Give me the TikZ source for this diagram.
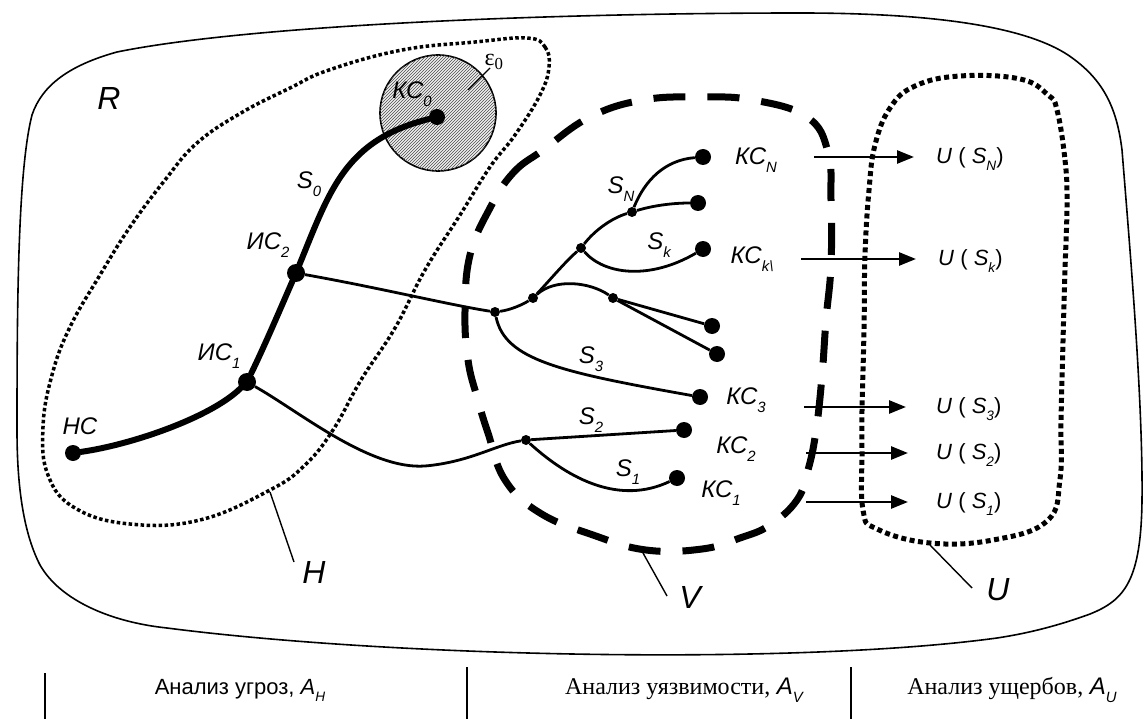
\documentclass[tikz,border=0pt]{standalone}
\usepackage{fontspec}
\setmainfont{Liberation Sans}
\newfontfamily\timesfont{Liberation Serif}
\usetikzlibrary{patterns}
\usetikzlibrary{arrows.meta}

\newcommand{\lsub}[1]{\raisebox{-0.32em}{\scalebox{0.62}{\itshape #1}}}
\newcommand{\ufun}[1]{\textit{U} ( \textit{S}\lsub{#1})}

\tikzset{
  bigdot/.style={circle,fill=black,inner sep=0pt,minimum size=16pt},
  nodedot/.style={circle,fill=black,inner sep=0pt,minimum size=18pt},
  smalldot/.style={circle,fill=black,inner sep=0pt,minimum size=10pt},
  branch/.style={line width=2.8pt},
  mainpath/.style={line width=6pt,line cap=round},
  lbl/.style={inner sep=0pt,font=\fontsize{24}{28}\selectfont\itshape},
  biglbl/.style={inner sep=0pt,font=\fontsize{32}{36}\selectfont\itshape},
  ulbl/.style={inner sep=0pt,anchor=west,font=\fontsize{22}{26}\selectfont},
  btxt/.style={inner sep=0pt,font=\fontsize{22}{26}\selectfont},
  flow/.style={line width=2.6pt,-{Triangle[length=17pt,width=13pt]}},
  leader/.style={line width=1.4pt},
  hzone/.style={line width=3.5pt,dash pattern=on 3.5pt off 2.5pt},
  vzone/.style={line width=7pt,dash pattern=on 32pt off 22pt},
  uzone/.style={line width=5pt,dash pattern=on 5pt off 3.5pt},
}

\begin{document}
\begin{tikzpicture}[x=1pt,y=1pt,yscale=-1]
\useasboundingbox (0,0) rectangle (1147,719);

%Shape: Outer region R
\draw [line width=1.6pt] (17,430) .. controls (17,300) and (18,170) .. (32,115) .. controls (42,85) and (70,65) .. (117,52) .. controls (250,25) and (550,13) .. (800,13) .. controls (950,13) and (1030,30) .. (1068,55) .. controls (1105,80) and (1117,110) .. (1122,150) .. controls (1130,250) and (1143,400) .. (1142,500) .. controls (1141,580) and (1125,600) .. (1090,614) .. controls (1060,625) and (1030,633) .. (997,638) .. controls (800,665) and (400,658) .. (167,628) .. controls (110,622) and (60,600) .. (40,565) .. controls (22,530) and (17,480) .. cycle ;

%Shape: Region H
\draw [hzone] plot [smooth cycle, tension=0.7] coordinates {(527,38) (545,47) (549,67) (540,95) (515,135) (490,167) (460,215) (425,270) (395,328) (361,380) (333,430) (305,465) (270,490) (200,520) (130,524) (75,508) (48,475) (43,427) (52,375) (70,327) (100,275) (130,227) (165,180) (197,143) (241,113) (290,88) (329,70) (402,50) (475,42)} ;

%Shape: Region V
\draw [vzone] plot [smooth cycle, tension=0.7] coordinates {(490,208) (513,173) (543,150) (590,117) (643,100) (700,97) (753,100) (807,117) (828,152) (831,200) (831,265) (826,320) (822,376) (816,431) (808,470) (797,500) (770,525) (740,538) (702,549) (646,550) (593,535) (540,513) (505,480) (488,433) (477,397) (468,360) (465,311) (470,255)} ;

%Shape: Region U
\draw [uzone] plot [smooth cycle, tension=0.7] coordinates {(1057,110) (1065,160) (1067,203) (1065,270) (1063,341) (1061,420) (1060,479) (1047,521) (993,540) (930,543) (877,529) (863,510) (862,450) (862,410) (864,330) (865,255) (869,190) (875,145) (890,108) (915,86) (960,76) (1020,79) (1048,95)} ;

%Shape: Circle eps0
\draw [line width=1.6pt, fill=gray!12, postaction={pattern=north east lines, pattern color=black!70}] (438,113) circle (58) ;

%Dots
\node [bigdot] (hc) at (73,453) {};
\node [nodedot] (ic1) at (247,382) {};
\node [nodedot] (ic2) at (296,273) {};
\node [bigdot] (kc0) at (437,117) {};
\node [smalldot] (j1) at (495,312) {};
\node [smalldot] (j2) at (533,298) {};
\node [smalldot] (j3) at (581,248) {};
\node [smalldot] (j4) at (632,212) {};
\node [smalldot] (j5) at (613,298) {};
\node [smalldot] (j6) at (526,440) {};
\node [bigdot] (kcn) at (703,157) {};
\node [bigdot] (t2) at (698,203) {};
\node [bigdot] (kck) at (703,249) {};
\node [bigdot] (da) at (712,326) {};
\node [bigdot] (db) at (717,354) {};
\node [bigdot] (kc3) at (700,397) {};
\node [bigdot] (kc2) at (684,430) {};
\node [bigdot] (kc1) at (677,478) {};

%Curve Lines: S0
\draw [mainpath] (hc) .. controls (130,445) and (210,418) .. (ic1) ;
\draw [mainpath] (ic1) .. controls (265,345) and (282,305) .. (ic2) ;
\draw [mainpath] (ic2) .. controls (330,190) and (345,140) .. (kc0) ;

%Curve Lines: branches
\draw [branch] (ic2) .. controls (380,288) and (450,305) .. (j1) ;
\draw [branch] (j1) .. controls (510,310) and (522,305) .. (j2) ;
\draw [branch] (j2) .. controls (550,280) and (565,262) .. (j3) ;
\draw [branch] (j3) .. controls (595,230) and (612,218) .. (j4) ;
\draw [branch] (j4) .. controls (645,180) and (665,160) .. (kcn) ;
\draw [branch] (j4) .. controls (655,205) and (675,203) .. (t2) ;
\draw [branch] (j3) .. controls (605,275) and (650,280) .. (kck) ;
\draw [branch] (j2) .. controls (555,278) and (590,282) .. (j5) ;
\draw [branch] (j5) -- (da) ;
\draw [branch] (j5) -- (db) ;
\draw [branch] (j1) .. controls (505,360) and (560,372) .. (kc3) ;
\draw [branch] (ic1) .. controls (300,412) and (370,470) .. (425,466) .. controls (470,462) and (495,445) .. (j6) ;
\draw [branch] (j6) -- (kc2) ;
\draw [branch] (j6) .. controls (570,480) and (620,505) .. (kc1) ;

%Straight Lines: arrows to U
\coordinate (fn0) at (814,157); \coordinate (fn1) at (914,157);
\coordinate (fk0) at (801,259); \coordinate (fk1) at (916,259);
\coordinate (f30) at (804,407); \coordinate (f31) at (906,407);
\coordinate (f20) at (806,453); \coordinate (f21) at (908,453);
\coordinate (f10) at (806,502); \coordinate (f11) at (908,502);
\draw [flow] (fn0) -- (fn1) ;
\draw [flow] (fk0) -- (fk1) ;
\draw [flow] (f30) -- (f31) ;
\draw [flow] (f20) -- (f21) ;
\draw [flow] (f10) -- (f11) ;

%Straight Lines: leaders
\coordinate (eps1) at (490,68); \coordinate (eps2) at (468,90);
\coordinate (hl1) at (270,492); \coordinate (hl2) at (294,562);
\coordinate (vl1) at (643,553); \coordinate (vl2) at (667,596);
\coordinate (ul1) at (930,545); \coordinate (ul2) at (972,588);
\draw [leader] (eps1) -- (eps2) ;
\draw [leader] (hl1) -- (hl2) ;
\draw [leader] (vl1) -- (vl2) ;
\draw [leader] (ul1) -- (ul2) ;

%Straight Lines: separators
\coordinate (s1a) at (45,673); \coordinate (s1b) at (45,719);
\coordinate (s2a) at (467,667); \coordinate (s2b) at (467,719);
\coordinate (s3a) at (851,667); \coordinate (s3b) at (851,719);
\draw [line width=1.6pt] (s1a) -- (s1b) ;
\draw [line width=1.6pt] (s2a) -- (s2b) ;
\draw [line width=1.6pt] (s3a) -- (s3b) ;

% Text Node
\node [biglbl] (rlab) at (109,98) {R};
\node [biglbl] (hlab) at (314,572) {H};
\node [biglbl] (vlab) at (690,597) {V};
\node [biglbl] (ulab) at (998,590) {U};
% Text Node
\node [lbl] (hclab) at (80,426) {НС};
\node [lbl] (ic1lab) at (219,356) {ИС\lsub{1}};
\node [lbl] (ic2lab) at (268,245) {ИС\lsub{2}};
\node [lbl] (kc0lab) at (412,94) {КС\lsub{0}};
\node [inner sep=0pt, font=\fontsize{24}{28}\selectfont\timesfont] (epslab) at (494,62) {ε\textsubscript{0}};
\node [lbl] (s0lab) at (309,184) {S\lsub{0}};
% Text Node
\node [lbl] (snlab) at (621,189) {S\lsub{N}};
\node [lbl] (sklab) at (659,245) {S\lsub{k}};
\node [lbl] (s3lab) at (591,359) {S\lsub{3}};
\node [lbl] (s2lab) at (591,420) {S\lsub{2}};
\node [lbl] (s1lab) at (628,472) {S\lsub{1}};
% Text Node
\node [lbl] (kcnlab) at (756,160) {КС\lsub{N}};
\node [lbl] (kcklab) at (752,259) {КС\lsub{k\textbackslash}};
\node [lbl] (kc3lab) at (746,400) {КС\lsub{3}};
\node [lbl] (kc2lab) at (736,449) {КС\lsub{2}};
\node [lbl] (kc1lab) at (721,493) {КС\lsub{1}};
% Text Node
\node [ulbl] (usn) at (936,159) {\ufun{N}};
\node [ulbl] (usk) at (938,261) {\ufun{k}};
\node [ulbl] (us3) at (936,409) {\ufun{3}};
\node [ulbl] (us2) at (936,455) {\ufun{2}};
\node [ulbl] (us1) at (936,504) {\ufun{1}};
% Text Node
\node [btxt] (ah) at (240,690) {Анализ угроз, \textit{A}\lsub{H}};
\node [btxt, font=\fontsize{24}{28}\selectfont] (av) at (684,690) {{\timesfont Анализ уязвимости,} \textit{A}\lsub{V}};
\node [btxt, font=\fontsize{24}{28}\selectfont] (au) at (1012,690) {{\timesfont Анализ ущербов,} \textit{A}\lsub{U}};

\end{tikzpicture}
\end{document}
